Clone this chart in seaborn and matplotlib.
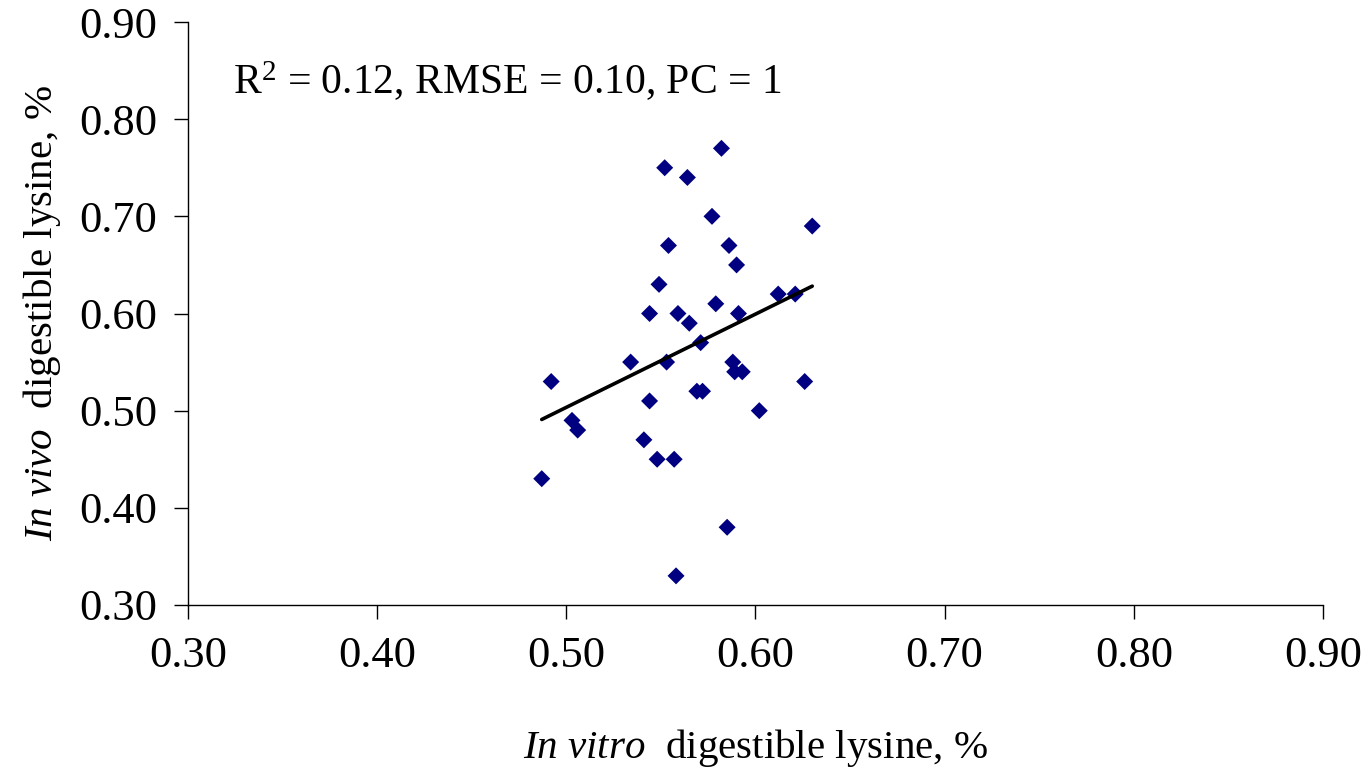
import numpy as np
import pandas as pd
import seaborn as sns
import matplotlib
matplotlib.use("Agg")
import matplotlib.pyplot as plt

# Data
in_vitro = [0.582, 0.552, 0.564, 0.577, 0.630, 0.554, 0.586, 0.590, 0.549, 0.612,
            0.621, 0.544, 0.579, 0.559, 0.565, 0.591, 0.571, 0.534, 0.553, 0.588,
            0.589, 0.593, 0.492, 0.626, 0.569, 0.572, 0.544, 0.602, 0.503, 0.506,
            0.541, 0.548, 0.557, 0.487, 0.585, 0.558]
in_vivo = [0.77, 0.75, 0.74, 0.70, 0.69, 0.67, 0.67, 0.65, 0.63, 0.62,
           0.62, 0.60, 0.61, 0.60, 0.59, 0.60, 0.57, 0.55, 0.55, 0.55,
           0.54, 0.54, 0.53, 0.53, 0.52, 0.52, 0.51, 0.50, 0.49, 0.48,
           0.47, 0.45, 0.45, 0.43, 0.38, 0.33]
ticks = [0.30, 0.40, 0.50, 0.60, 0.70, 0.80, 0.90]
tick_labels = ["0.30", "0.40", "0.50", "0.60", "0.70", "0.80", "0.90"]
annotation = "R$^2$ = 0.12, RMSE = 0.10, PC = 1"

df = pd.DataFrame({"x": in_vitro, "y": in_vivo})

sns.set_style("white")
plt.rcParams["font.family"] = ["Liberation Serif", "DejaVu Serif"]
plt.rcParams["mathtext.fontset"] = "custom"
plt.rcParams["mathtext.rm"] = "Liberation Serif"
plt.rcParams["mathtext.it"] = "Liberation Serif:italic"
plt.rcParams["text.color"] = "black"
plt.rcParams["axes.labelcolor"] = "black"

fig = plt.figure(figsize=(13.68, 7.67), dpi=100)
ax = fig.add_axes([188 / 1368, 1 - 605 / 767, (1323 - 188) / 1368, (605 - 22) / 767])

sns.regplot(data=df, x="x", y="y", ax=ax, ci=None, truncate=True,
            marker="D",
            scatter_kws={"color": "#000080", "s": 75, "edgecolors": "none", "alpha": 1.0},
            line_kws={"color": "black", "linewidth": 2.6})

ax.set_xlim(0.30, 0.90)
ax.set_ylim(0.30, 0.90)
ax.set_xticks(ticks)
ax.set_xticklabels(tick_labels)
ax.set_yticks(ticks)
ax.set_yticklabels(tick_labels)

for s in ["top", "right"]:
    ax.spines[s].set_visible(False)
for s in ["left", "bottom"]:
    ax.spines[s].set_color("black")
    ax.spines[s].set_linewidth(1.0)

ax.tick_params(axis="both", direction="out", length=10, width=1.0, color="black",
               labelsize=32, labelcolor="black", left=True, bottom=True)
ax.tick_params(axis="x", pad=12)
ax.tick_params(axis="y", pad=12)

ax.set_xlabel(r"$\it{In\ vitro}$  digestible lysine, %", fontsize=29.5, labelpad=37,
              color="black")
ax.set_ylabel(r"$\it{In\ vivo}$  digestible lysine, %", fontsize=29.5, labelpad=12,
              color="black")

ax.text(0.324, 0.826, annotation, fontsize=30, ha="left", va="baseline", color="black")

fig.savefig("out.png", dpi=100)
